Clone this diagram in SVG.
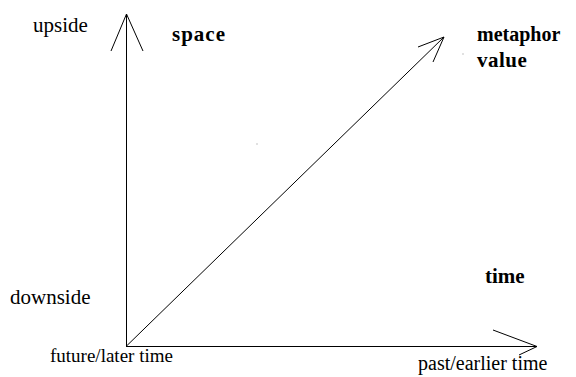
<svg xmlns="http://www.w3.org/2000/svg" width="576" height="377" viewBox="0 0 576 377">
<style>
.ln{stroke:#000;stroke-width:1;fill:none}
text{font-family:'Liberation Serif','DejaVu Serif',serif;fill:#000}
.t{font-size:19px}
.b{font-size:21px;font-weight:bold}
</style>
<rect width="576" height="377" fill="#fff"/>
<g id="connectors">
<g id="vertical-axis"><path class="ln" d="M126.5 346V14"/><path class="ln" d="M111 51L126.5 14L143 51"/></g>
<g id="horizontal-axis"><path class="ln" d="M126 346.5H537"/><path class="ln" d="M493 330L537 346.5L519 355"/></g>
<g id="diagonal"><path class="ln" d="M126.5 346L444 37"/><path class="ln" d="M418 47L444 37L433 62"/></g>
</g>
<g id="upside"><text class="t" x="33" y="32" style="font-size:21px">upside</text></g>
<g id="space"><text class="b" x="172" y="41" style="letter-spacing:1px">space</text></g>
<g id="metaphor"><text class="b" x="477" y="41" style="font-size:20px">metaphor</text><text class="b" x="477" y="67" style="letter-spacing:0.5px">value</text></g>
<g id="time"><text class="b" x="485" y="283">time</text></g>
<g id="downside"><text class="t" x="10" y="304" style="font-size:21px">downside</text></g>
<g id="future"><text class="t" x="50" y="362">future/later time</text></g>
<g id="past"><text class="t" x="418" y="370" style="font-size:20px">past/earlier time</text></g>
<rect x="256.5" y="143.5" width="1" height="1" fill="#888"/>
<rect x="462.5" y="53.5" width="1" height="1" fill="#888"/>
</svg>
